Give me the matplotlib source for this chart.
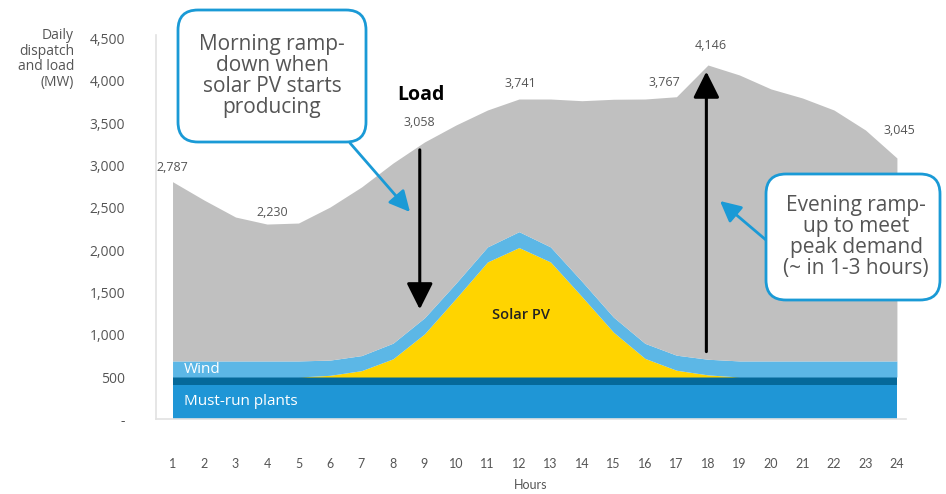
import matplotlib
matplotlib.use("Agg")
import matplotlib.pyplot as plt
from matplotlib.patches import FancyBboxPatch
import numpy as np

# hourly dispatch stack (MW)
hours = list(range(1, 25))
must_run = [410, 410, 410, 410, 410, 410, 410, 410, 410, 410, 410, 410,
            410, 410, 410, 410, 410, 410, 410, 410, 410, 410, 410, 410]
other = [90, 90, 90, 90, 90, 90, 90, 90, 90, 90, 90, 90,
         90, 90, 90, 90, 90, 90, 90, 90, 90, 90, 90, 90]
solar = [0, 0, 0, 0, 0, 20, 75, 215, 510, 930, 1360, 1530,
         1360, 950, 530, 220, 80, 25, 0, 0, 0, 0, 0, 0]
wind = [190, 190, 190, 190, 190, 180, 178, 185, 190, 180, 178, 188,
        178, 180, 178, 178, 178, 185, 190, 190, 190, 190, 190, 190]
load = [2809, 2592, 2391, 2308, 2320, 2509, 2746, 3029, 3278, 3479, 3656, 3786,
        3786, 3766, 3783, 3786, 3813, 4188, 4070, 3905, 3798, 3656, 3420, 3089]

label_hours = [1, 4, 9, 12, 17, 18, 24]
label_values = [2787, 2230, 3058, 3741, 3767, 4146, 3045]
label_offsets = [(0, 10), (4, 8), (-4, 14), (1, 11), (-9, 10), (2, 14), (2, 20)]

yticks = [0, 500, 1000, 1500, 2000, 2500, 3000, 3500, 4000, 4500]
ytick_labels = ["-", "500", "1,000", "1,500", "2,000", "2,500", "3,000", "3,500", "4,000", "4,500"]

c_must = "#1f96d6"
c_other = "#05699a"
c_solar = "#ffd400"
c_wind = "#5cb7e6"
c_load = "#c0c0c0"
c_text = "#555555"
c_call = "#1a9ad6"

plt.rcParams["font.family"] = ["Open Sans", "DejaVu Sans"]

fig = plt.figure(figsize=(9.46, 4.94), dpi=100)
ax = fig.add_axes([0.1644, 0.1512, 0.7937, 0.7775])

x = np.array(hours)
b1 = np.array(must_run)
b2 = b1 + np.array(other)
b3 = b2 + np.array(solar)
b4 = b3 + np.array(wind)
top = np.array(load)

ax.fill_between(x, 0, b1, color=c_must, lw=0)
ax.fill_between(x, b1, b2, color=c_other, lw=0)
ax.fill_between(x, b2, b3, color=c_solar, lw=0)
ax.fill_between(x, b3, b4, color=c_wind, lw=0)
ax.fill_between(x, b4, top, color=c_load, lw=0)

ax.set_xlim(0.46, 24.3)
ax.set_ylim(0, 4540)
ax.set_xticks(hours)
ax.set_xticklabels([str(h) for h in hours], fontsize=9, color=c_text, family="Lato")
ax.set_yticks(yticks)
ax.set_yticklabels(ytick_labels, fontsize=10, color=c_text)
ax.tick_params(axis="x", length=0, pad=28)
ax.tick_params(axis="y", length=0, pad=22)
for s in ["top", "right"]:
    ax.spines[s].set_visible(False)
for s in ["left", "bottom"]:
    ax.spines[s].set_color("#e2e2e2")
    ax.spines[s].set_linewidth(1.2)
ax.set_xlabel("Hours", fontsize=9, color=c_text, family="Lato", labelpad=6)

fig.text(74 / 946, 1 - 28 / 494, "Daily\ndispatch\nand load\n(MW)", ha="right", va="top",
         fontsize=10, color=c_text, linespacing=1.05)

# value labels on the load curve
for h, v, (dx, dy) in zip(label_hours, label_values, label_offsets):
    ax.annotate(f"{v:,}", (h, load[h - 1]), xytext=(dx, dy), textcoords="offset points",
                ha="center", va="center", fontsize=9, color=c_text)

# series labels
ax.text(1.35, (must_run[0] + other[0]) + wind[0] / 2 - 10, "Wind", color="white",
        fontsize=11, ha="left", va="center", fontweight="medium")
ax.text(1.35, must_run[0] / 2 + 10, "Must-run plants", color="white",
        fontsize=11, ha="left", va="center", fontweight="medium")
ax.text(12.05, 1230, "Solar PV", color="#222222", fontsize=10.5, ha="center",
        va="center", fontweight="semibold")
ax.text(8.9, 3830, "Load", color="black", fontsize=14, ha="center", va="center",
        fontweight="bold")

# ramp arrows
arrow_kw = dict(arrowstyle="-|>,head_length=0.8,head_width=0.4", color="black",
                lw=2.2, mutation_scale=20, shrinkA=0, shrinkB=0)
ax.annotate("", xy=(8.85, 1300), xytext=(8.85, 3185), arrowprops=arrow_kw)
ax.annotate("", xy=(17.95, 4110), xytext=(17.95, 800), arrowprops=arrow_kw)


def callout(x0, y0, x1, y1, text, cx, cy, start, tip):
    box = FancyBboxPatch((x0 / 100, (494 - y1) / 100), (x1 - x0) / 100, (y1 - y0) / 100,
                         boxstyle="round,pad=0,rounding_size=0.2",
                         transform=fig.dpi_scale_trans, facecolor="white",
                         edgecolor=c_call, lw=2, zorder=5)
    fig.patches.append(box)
    fig.text(cx / 946, 1 - cy / 494, text, ha="center", va="center", fontsize=15,
             color=c_text, linespacing=1.02, zorder=6)
    ax.annotate("", xy=(tip[0], 494 - tip[1]), xycoords="figure pixels",
                xytext=(start[0], 494 - start[1]), textcoords="figure pixels",
                arrowprops=dict(arrowstyle="-|>,head_length=0.7,head_width=0.35",
                                color=c_call, lw=2, mutation_scale=18,
                                shrinkA=0, shrinkB=0), zorder=6)


callout(178, 10, 366, 142, "Morning ramp-\ndown when\nsolar PV starts\nproducing",
        272, 76, (350, 143), (410, 212))
callout(766, 174, 940, 300, "Evening ramp-\nup to meet\npeak demand\n(~ in 1-3 hours)",
        856, 237, (766, 240), (720, 201))

fig.savefig("out.png", dpi=100)
